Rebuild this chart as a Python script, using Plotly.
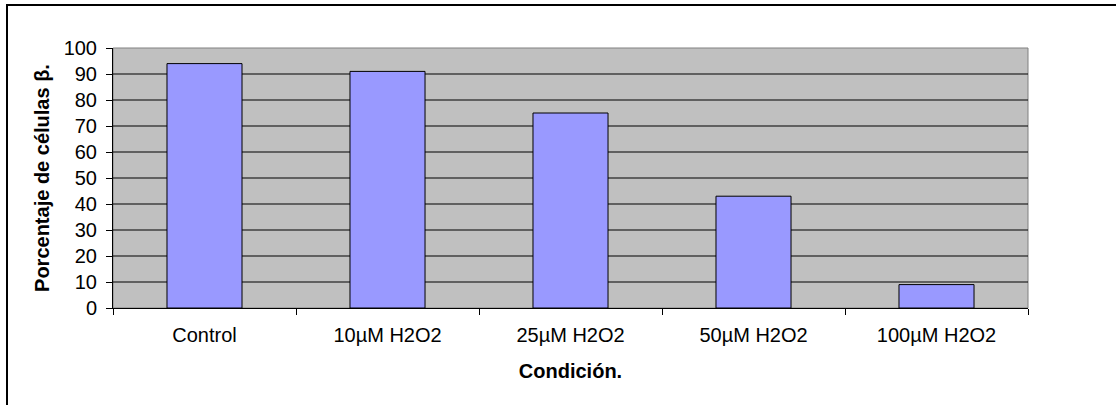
import plotly.graph_objects as go

categories = ["Control", "10µM H2O2", "25µM H2O2", "50µM H2O2", "100µM H2O2"]
values = [94, 91, 75, 43, 9]
y_ticks = list(range(0, 101, 10))

W, H = 1116, 405
L, R, T, B = 113, 88, 48, 97
pw, ph = W - L - R, H - T - B

fig = go.Figure(go.Bar(
    x=categories, y=values,
    marker=dict(color="#9999FF", line=dict(color="black", width=1)),
    width=0.41,
))

font = "Liberation Sans, Arial, sans-serif"

grid_shapes = [
    dict(type="line", xref="paper", yref="y", x0=0, x1=1, y0=v, y1=v,
         line=dict(color="black", width=1), layer="below")
    for v in y_ticks[1:-1]
]

fig.update_layout(
    width=W, height=H, autosize=False,
    margin=dict(l=L, r=R, t=T, b=B, pad=0),
    paper_bgcolor="white", plot_bgcolor="#C0C0C0",
    font=dict(family=font, size=20, color="black"),
    showlegend=False,
    xaxis=dict(
        type="category", showline=True, linecolor="black", linewidth=1,
        ticks="outside", tickson="boundaries", ticklen=6, tickcolor="black",
        showgrid=False, ticklabelstandoff=9,
        title=dict(text="<b>Condición.</b>", font=dict(size=20), standoff=18),
        tickfont=dict(size=20),
    ),
    yaxis=dict(
        range=[0, 100], tickvals=y_ticks, showline=True, linecolor="black", linewidth=1,
        ticks="outside", ticklen=6, tickcolor="black", ticklabelstandoff=5,
        showgrid=False, zeroline=False,
        title=dict(text="<b>Porcentaje de células β.</b>", font=dict(size=20), standoff=8),
        tickfont=dict(size=20),
    ),
    shapes=[
        dict(type="rect", xref="paper", yref="paper", x0=0, x1=1, y0=0, y1=1,
             line=dict(color="#808080", width=1), layer="below"),
        *grid_shapes,
        dict(type="rect", xref="paper", yref="paper",
             x0=(7 - L) / pw, x1=(W + 20 - L) / pw,
             y0=(H - B - 5) / ph, y1=(H - B - H - 20) / ph,
             line=dict(color="black", width=2), layer="above"),
    ],
)

fig.write_html("out.html")
